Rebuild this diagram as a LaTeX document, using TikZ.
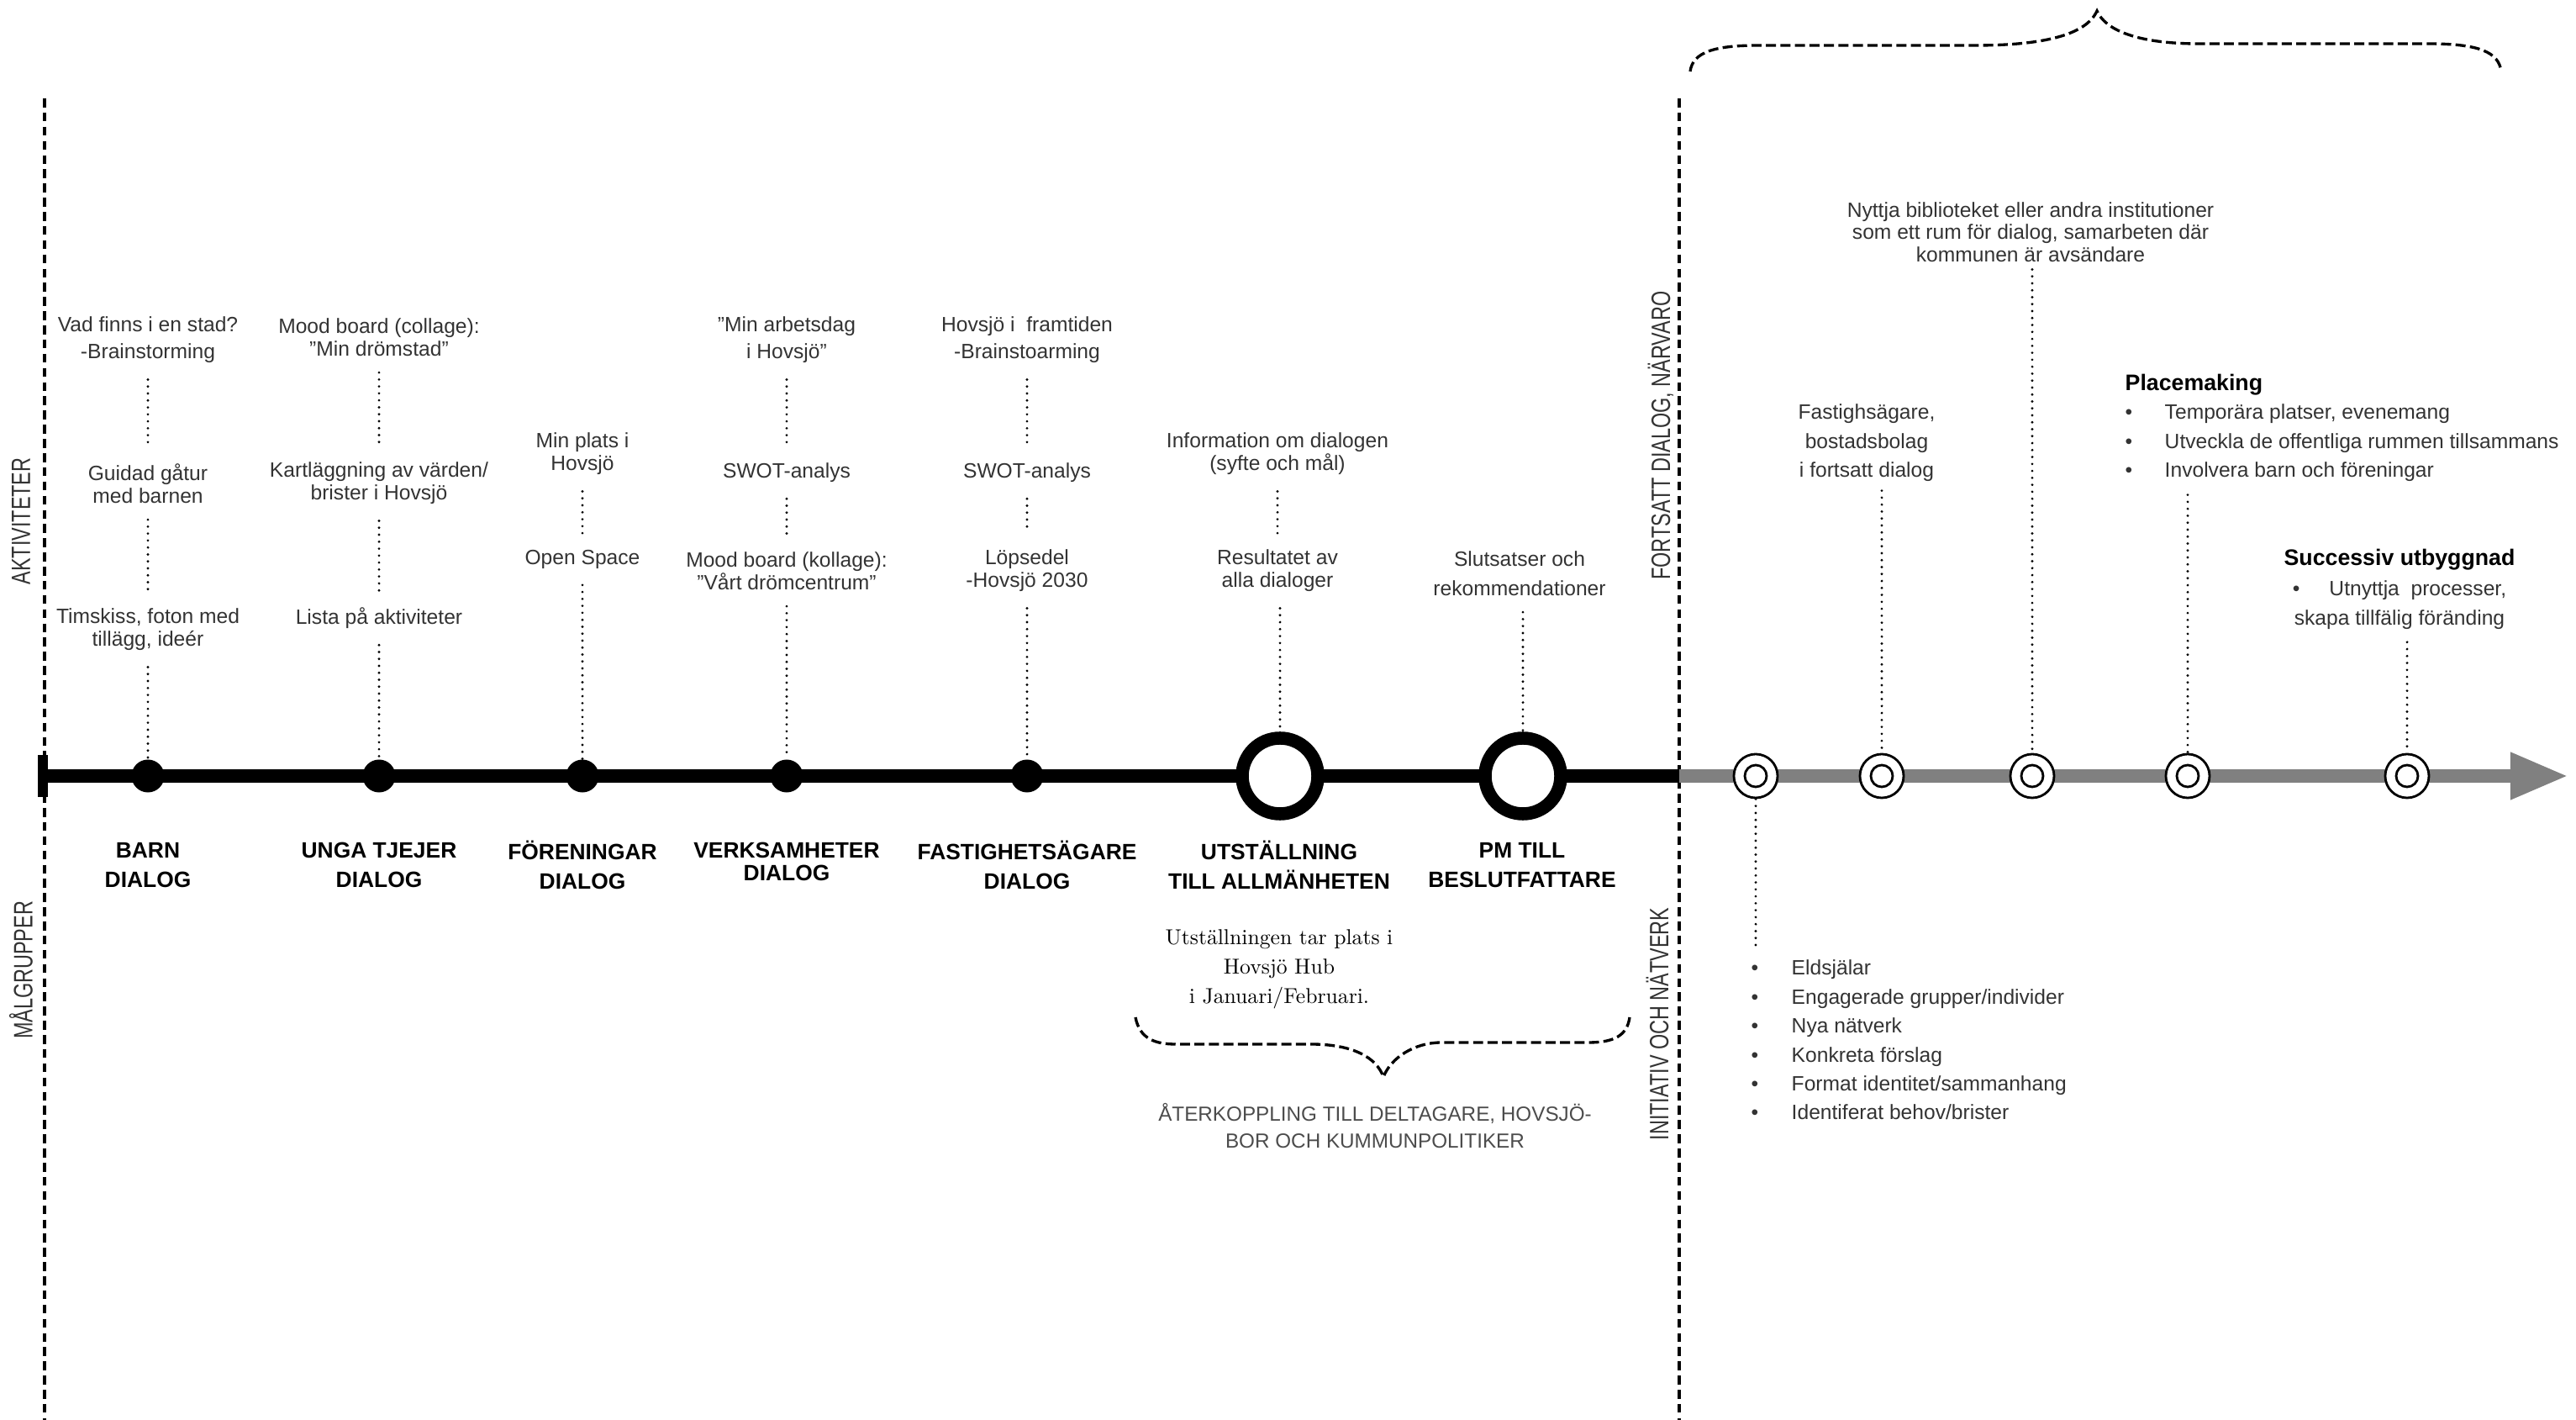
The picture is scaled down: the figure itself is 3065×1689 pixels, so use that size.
\documentclass[tikz,border=0pt]{standalone}
\usepackage{fontspec}
\usepackage{graphicx}
\setmainfont{Liberation Sans}
\newfontfamily\serifface{lmroman10-regular}[Extension=.otf]
\usetikzlibrary{arrows.meta}

\begin{document}
\begin{tikzpicture}[x=0.01cm, y=-0.01cm,
    txt/.style = {font=\fontsize{7}{7.6}\selectfont, text=black!80, align=center, inner sep=0.19cm},
    lbl/.style = {font=\fontsize{7.5}{10}\selectfont\bfseries, align=center},
    side/.style = {font=\fontsize{9}{9}\selectfont, text=black!80, rotate=90},
    dot/.style = {circle, fill=black, minimum size=0.39cm, inner sep=0},
    ring/.style = {circle, draw, line width=0.155cm, fill=white, minimum size=0.9cm, inner sep=0},
    ring2/.style = {circle, draw, line width=0.8pt, fill=white, minimum size=0.52cm, inner sep=0,
        path picture={\draw[line width=0.8pt] (path picture bounding box.center) circle (0.13cm);}},
    link/.style = {line width=0.9pt, line cap=round, dash pattern=on 0pt off 2.35pt},
    border/.style = {line width=0.9pt, dash pattern=on 3pt off 1.8pt},
    brace/.style = {line width=0.95pt, dash pattern=on 3.4pt off 1.5pt}]
    \useasboundingbox (0,0) rectangle (3065,1689);

    %Phases
    \draw[border] (53,117) -- (53,1689);
    \draw[border] (1998,117) -- (1998,1689);
    \node[side] (akt) at (25,620) {\scalebox{0.74}[1]{AKTIVITETER}};
    \node[side] (mal) at (25,1154) {\scalebox{0.74}[1]{MÅLGRUPPER}};
    \node[side] (fort) at (1976,518) {\scalebox{0.74}[1]{FORTSATT DIALOG, NÄRVARO}};
    \node[side] (init) at (1972,1218) {\scalebox{0.74}[1]{INITIATIV OCH NÄTVERK}};

    %Braces
    \draw[brace] (2011,85) .. controls (2014,62) and (2040,54) .. (2092,54) -- (2350,54)
        .. controls (2430,54) and (2482,42) .. (2495,13)
        .. controls (2508,42) and (2560,52) .. (2615,52) -- (2889,52)
        .. controls (2950,52) and (2973,62) .. (2976,85);
    \draw[brace] (1351,1210) .. controls (1356,1236) and (1375,1242) .. (1399,1242) -- (1560,1242)
        .. controls (1610,1242) and (1638,1258) .. (1646,1281)
        .. controls (1655,1258) and (1683,1240) .. (1715,1240) -- (1890,1240)
        .. controls (1920,1240) and (1936,1232) .. (1939,1210);

    %Timeline
    \coordinate (start) at (51,923);
    \coordinate (mid) at (1998,923);
    \coordinate (end) at (3056,923);
    \draw[line width=0.11cm] (51,898) -- (51,948);
    \draw[line width=0.16cm] (start) -- (mid);
    \draw[line width=0.16cm, black!50, -{Triangle[length=0.69cm, width=0.52cm]}] (mid) -- (end);

    \node[dot] (d1) at (176,923) {};
    \node[dot] (d2) at (451,923) {};
    \node[dot] (d3) at (693,923) {};
    \node[dot] (d4) at (936,923) {};
    \node[dot] (d5) at (1222,923) {};
    \node[ring] (g1) at (1523,923) {};
    \node[ring] (g2) at (1812,923) {};
    \node[ring2] (r1) at (2089,923) {};
    \node[ring2] (r2) at (2239,923) {};
    \node[ring2] (r3) at (2418,923) {};
    \node[ring2] (r4) at (2603,923) {};
    \node[ring2] (r5) at (2864,923) {};

    %Target groups
    \node[lbl] (l1) at (176,1029) {BARN\\DIALOG};
    \node[lbl] (l2) at (451,1029) {UNGA TJEJER\\DIALOG};
    \node[lbl] (l3) at (693,1029) {FÖRENINGAR\\DIALOG};
    \node[lbl] (l4) at (936,1025) {VERKSAMHETER\\[-2.4pt]DIALOG};
    \node[lbl] (l5) at (1222,1029) {FASTIGHETSÄGARE\\DIALOG};
    \node[lbl] (l6) at (1522,1029) {UTSTÄLLNING\\TILL ALLMÄNHETEN};
    \node[lbl] (l7) at (1811,1029) {PM TILL\\BESLUTFATTARE};
    \node[font=\serifface\fontsize{7.3}{9.96}\selectfont, align=center] (s1) at (1522,1153)
        {Utställningen tar plats i\\Hovsjö Hub\\i Januari/Februari.};
    \node[txt, font=\fontsize{6.9}{9.1}\selectfont, text=black!70] (f1) at (1636,1339)
        {ÅTERKOPPLING TILL DELTAGARE, HOVSJÖ-\\BOR OCH KUMMUNPOLITIKER};

    %Activities
    \node[txt] (t11) at (176,404) {Vad finns i en stad?\\[1.7pt]-Brainstorming};
    \node[txt] (t12) at (176,575) {Guidad gåtur\\med barnen};
    \node[txt] (t13) at (176,749) {Timskiss, foton med\\tillägg, ideér};
    \node[txt] (t21) at (451,401) {Mood board (collage):\\"Min drömstad"};
    \node[txt] (t22) at (451,575) {Kartläggning av värden/\\brister i Hovsjö};
    \node[txt] (t23) at (451,735) {Lista på aktiviteter};
    \node[txt] (t31) at (693,540) {Min plats i\\Hovsjö};
    \node[txt] (t32) at (693,665) {Open Space};
    \node[txt] (t41) at (936,404) {"Min arbetsdag\\[1.7pt]i Hovsjö"};
    \node[txt] (t42) at (936,562) {SWOT-analys};
    \node[txt] (t43) at (936,679) {Mood board (kollage):\\"Vårt drömcentrum"};
    \node[txt] (t51) at (1222,404) {Hovsjö i\ \ framtiden\\[1.7pt]-Brainstoarming};
    \node[txt] (t52) at (1222,562) {SWOT-analys};
    \node[txt] (t53) at (1222,679) {Löpsedel\\-Hovsjö 2030};
    \node[txt] (t61) at (1520,540) {Information om dialogen\\(syfte och mål)};
    \node[txt] (t62) at (1520,679) {Resultatet av\\alla dialoger};
    \node[txt] (t71) at (1808,682) {Slutsatser och\\[2.3pt]rekommendationer};

    \draw[link] (t11) -- (t12);
    \draw[link] (t12) -- (t13);
    \draw[link] (t13) -- (d1);
    \draw[link] (t21) -- (t22);
    \draw[link] (t22) -- (t23);
    \draw[link] (t23) -- (d2);
    \draw[link] (t31) -- (t32);
    \draw[link] (t32) -- (d3);
    \draw[link] (t41) -- (t42);
    \draw[link] (t42) -- (t43);
    \draw[link] (t43) -- (d4);
    \draw[link] (t51) -- (t52);
    \draw[link] (t52) -- (t53);
    \draw[link] (t53) -- (d5);
    \draw[link] (t61) -- (t62);
    \draw[link] (t62.south -| g1) -- (g1);
    \draw[link] (t71.south -| g2) -- (g2);

    %Continued
    \node[txt, font=\fontsize{7}{9.8}\selectfont, anchor=west, align=left, inner sep=0.15cm] (u1) at (2068,1237)
        {\makebox[0.48cm][l]{\textbullet}Eldsjälar\\
         \makebox[0.48cm][l]{\textbullet}Engagerade grupper/individer\\
         \makebox[0.48cm][l]{\textbullet}Nya nätverk\\
         \makebox[0.48cm][l]{\textbullet}Konkreta förslag\\
         \makebox[0.48cm][l]{\textbullet}Format identitet/sammanhang\\
         \makebox[0.48cm][l]{\textbullet}Identiferat behov/brister};
    \node[txt, font=\fontsize{7}{9.8}\selectfont, inner sep=0.1cm] (u2) at (2221,527)
        {Fastighsägare,\\bostadsbolag\\i fortsatt dialog};
    \node[txt, inner sep=0.08cm] (u3) at (2416,276)
        {Nyttja biblioteket eller andra institutioner\\som ett rum för dialog, samarbeten där\\kommunen är avsändare};
    \node[txt, font=\fontsize{7}{9.8}\selectfont, anchor=west, align=left, inner sep=0.15cm] (u4) at (2513,509)
        {{\color{black}\bfseries\fontsize{7.6}{9.8}\selectfont Placemaking}\\
         \makebox[0.47cm][l]{\textbullet}Temporära platser, evenemang\\
         \makebox[0.47cm][l]{\textbullet}Utveckla de offentliga rummen tillsammans\\
         \makebox[0.47cm][l]{\textbullet}Involvera barn och föreningar};
    \node[txt, font=\fontsize{7}{10.2}\selectfont, inner sep=0.14cm] (u5) at (2855,701)
        {{\color{black}\bfseries\fontsize{7.6}{10.2}\selectfont Successiv utbyggnad}\\
         \textbullet\hspace{0.35cm}Utnyttja\ \ processer,\\skapa tillfälig föränding};

    \draw[link] (r1) -- (u1.north -| r1);
    \draw[link] (u2.south -| r2) -- (r2);
    \draw[link] (u3.south -| r3) -- (r3);
    \draw[link] (u4.south -| r4) -- (r4);
    \draw[link] (u5.south -| r5) -- (r5);
\end{tikzpicture}
\end{document}
